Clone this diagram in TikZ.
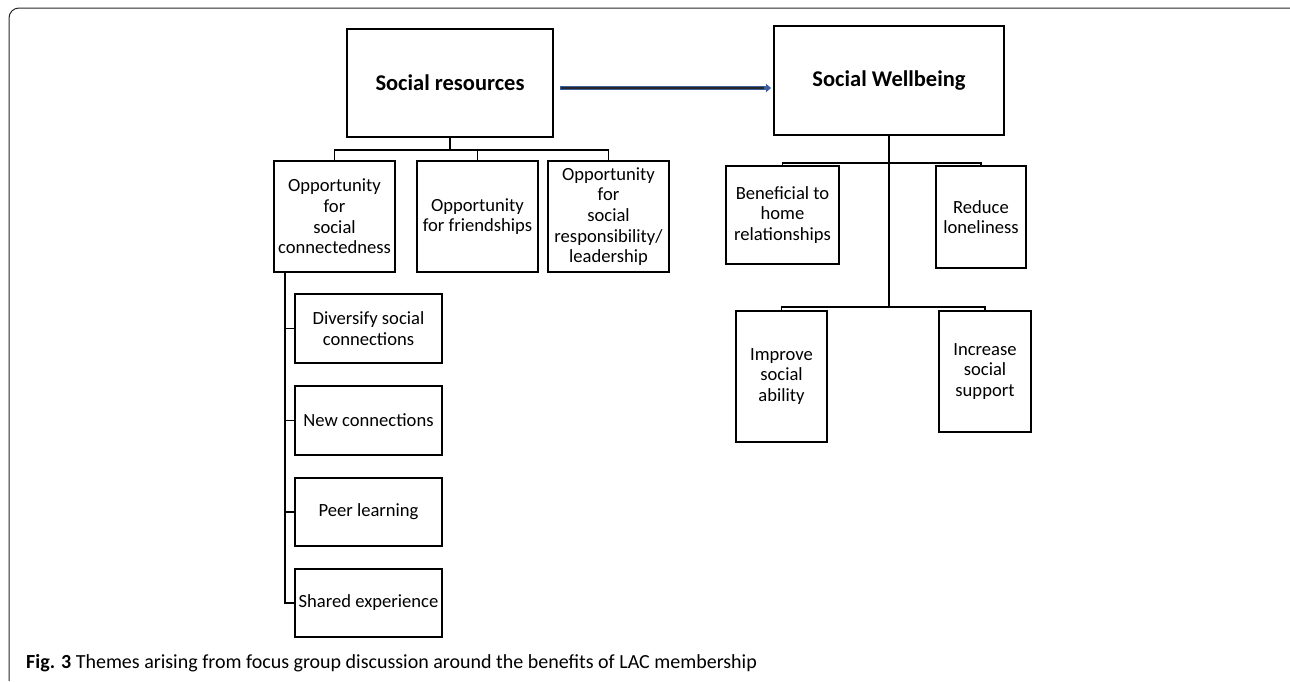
\documentclass[tikz,border=0pt]{standalone}
\usepackage{fontspec}
\setmainfont{Carlito}
\usetikzlibrary{arrows.meta}
\definecolor{arrowblue}{RGB}{63,94,160}
\definecolor{framegray}{RGB}{40,40,40}
\tikzset{
  themebox/.style={draw,line width=1.8pt,inner sep=0pt,align=center,font=\fontsize{18.6}{20.6}\selectfont},
  headbox/.style={themebox,font=\fontsize{22.5}{26}\selectfont\bfseries},
  link/.style={line width=1.6pt}
}
\begin{document}
\begin{tikzpicture}[x=1pt,y=-1pt]
        \useasboundingbox (0,0) rectangle (1290,681);
        \draw[framegray,line width=1pt,rounded corners=10pt] (9,681) -- (9,8) -- (1290,8);
        \node[headbox,minimum width=206pt,minimum height=108pt] (res) at (450,83) {Social resources};
        \node[headbox,minimum width=230pt,minimum height=109pt] (wel) at (889,80.5) {Social Wellbeing};
        \draw[arrowblue,line width=4.5pt,-{Triangle[length=5pt,width=8pt]},shorten <=6pt,shorten >=2pt]
          ([yshift=-5pt]res.east) -- ([yshift=-5pt]res.east -| wel.west);
        \draw[black!85,line width=1.6pt,shorten <=7pt,shorten >=9pt]
          ([yshift=-5pt]res.east) -- ([yshift=-5pt]res.east -| wel.west);
        % social resources
        \node[themebox,minimum width=121pt,minimum height=111pt] (con) at (334.5,216.5) {Opportunity\\for\\social\\connectedness};
        \node[themebox,minimum width=121pt,minimum height=111pt] (fri) at (477.5,216.5) {Opportunity\\for friendships};
        \node[themebox,minimum width=121pt,minimum height=111pt] (lea) at (608.5,216.5) {Opportunity\\for\\social\\responsibility/\\leadership};
        \draw[link] (res.south) -- ++(0,12) coordinate (rb);
        \draw[link] (con.north) |- (rb) -| (lea.north);
        \draw[link] (rb) -| (fri.north);
        \foreach \n/\y/\h/\t in {div/328.5/69/{Diversify social\\connections},new/420.5/69/{New connections},
          peer/512/68/{Peer learning},sha/603/68/{Shared experience}}
        \node[themebox,minimum width=147pt,minimum height=\h pt] (\n) at (368.5,\y) {\t};
        \coordinate (sp) at ([xshift=12pt]con.south west);
        \draw[link] (sp) |- (sha.west);
        \foreach \n in {div,new,peer}
        \draw[link] (sp |- \n.west) -- (\n.west);
        % social wellbeing
        \node[themebox,minimum width=113pt,minimum height=98pt] (ben) at (782.5,215) {Beneficial to\\home\\relationships};
        \node[themebox,minimum width=90pt,minimum height=102pt] (lon) at (981,217) {Reduce\\loneliness};
        \node[themebox,minimum width=91pt,minimum height=131pt] (imp) at (781.5,376.5) {Improve\\social\\ability};
        \node[themebox,minimum width=92pt,minimum height=121pt] (sup) at (985,371.5) {Increase\\social\\support};
        \draw[line width=2.4pt] (wel.south) -- ++(0,171) coordinate (wb2);
        \coordinate (wb1) at ([yshift=-27pt]wel.south);
        \draw[link] (ben.north) |- (wb1) -| (lon.north);
        \draw[link] (imp.north) |- (wb2) -| (sup.north);
        \node[anchor=west,inner sep=0pt,font=\fontsize{20}{24}\selectfont] (cap) at (26,663)
          {\textbf{Fig. 3} Themes arising from focus group discussion around the benefits of LAC membership};
\end{tikzpicture}
\end{document}
